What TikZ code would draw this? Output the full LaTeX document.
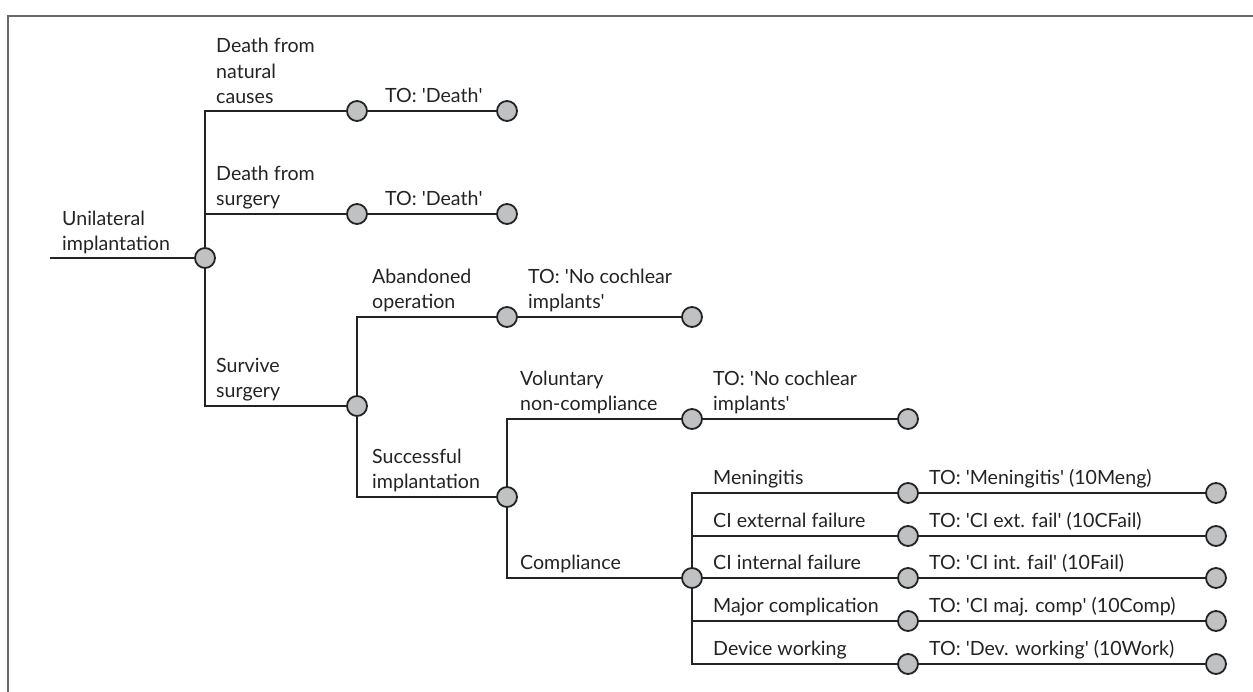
\documentclass[tikz,border=0pt]{standalone}
\usepackage{fontspec}
\setmainfont{Lato}
\newcommand\sq{\textquotesingle}
\definecolor{nodefill}{RGB}{192,193,195}
\definecolor{ink}{RGB}{35,35,35}
\definecolor{framec}{RGB}{105,105,105}
\begin{document}
\begin{tikzpicture}[x=1pt,y=-1pt,
  ln/.style={line width=1.9pt, draw=ink},
  chance/.style={circle, draw=ink, line width=1.8pt, fill=nodefill, minimum size=20pt, inner sep=0pt},
  lbl/.style={anchor=south west, inner sep=0pt, text depth=0pt, align=left, font=\fontsize{19.6}{25.5}\selectfont, text=ink},
  frameline/.style={line width=2pt, draw=framec}]
\useasboundingbox (0,0) rectangle (1253,691);
\draw[frameline] (8,700) -- (8,16) -- (1262,16);

% nodes
\coordinate (s0) at (50,258);
\node[chance] (c0) at (205,258) {};
\node[chance] (a1) at (357,111) {};
\node[chance] (t1) at (507,111) {};
\node[chance] (a2) at (357,214) {};
\node[chance] (t2) at (507,214) {};
\node[chance] (a3) at (357,406) {};
\node[chance] (b1) at (507,317) {};
\node[chance] (t3) at (692,317) {};
\node[chance] (b2) at (507,497) {};
\node[chance] (d1) at (692,419) {};
\node[chance] (t4) at (908,419) {};
\node[chance] (d2) at (692,578) {};
\node[chance] (e1) at (908,493) {};
\node[chance] (e2) at (908,536) {};
\node[chance] (e3) at (908,578) {};
\node[chance] (e4) at (908,621) {};
\node[chance] (e5) at (908,664) {};
\node[chance] (f1) at (1216,493) {};
\node[chance] (f2) at (1216,536) {};
\node[chance] (f3) at (1216,578) {};
\node[chance] (f4) at (1216,621) {};
\node[chance] (f5) at (1216,664) {};

% connectors
\draw[ln] (s0) -- (c0);
\draw[ln] (c0) |- (a1);
\draw[ln] (c0) |- (a2);
\draw[ln] (c0) |- (a3);
\draw[ln] (a1) -- (t1);
\draw[ln] (a2) -- (t2);
\draw[ln] (a3) |- (b1);
\draw[ln] (a3) |- (b2);
\draw[ln] (b1) -- (t3);
\draw[ln] (b2) |- (d1);
\draw[ln] (b2) |- (d2);
\draw[ln] (d1) -- (t4);
\draw[ln] (d2) |- (e1);
\draw[ln] (d2) |- (e2);
\draw[ln] (d2) -- (e3);
\draw[ln] (d2) |- (e4);
\draw[ln] (d2) |- (e5);
\draw[ln] (e1) -- (f1);
\draw[ln] (e2) -- (f2);
\draw[ln] (e3) -- (f3);
\draw[ln] (e4) -- (f4);
\draw[ln] (e5) -- (f5);

% labels
\node[lbl] (l0) at (62,251) {Unilateral\\implantation};
\node[lbl] (l1) at (216,104) {Death from\\natural\\causes};
\node[lbl] (l2) at (216,206) {Death from\\surgery};
\node[lbl] (l3) at (216,398) {Survive\\surgery};
\node[lbl] (o1) at (385,103) {TO: \sq Death\sq};
\node[lbl] (o2) at (385,206) {TO: \sq Death\sq};
\node[lbl] (l4) at (372,309) {Abandoned\\operation};
\node[lbl] (o3) at (528,309) {TO: \sq No cochlear\\implants\sq};
\node[lbl] (l5) at (372,489) {Successful\\implantation};
\node[lbl] (l6) at (520,411) {Voluntary\\non-compliance};
\node[lbl] (o4) at (713,411) {TO: \sq No cochlear\\implants\sq};
\node[lbl] (l7) at (520,570) {Compliance};
\node[lbl] (m1) at (713,485) {Meningitis};
\node[lbl] (m2) at (713,528) {CI external failure};
\node[lbl] (m3) at (713,570) {CI internal failure};
\node[lbl] (m4) at (713,613) {Major complication};
\node[lbl] (m5) at (713,656) {Device working};
\node[lbl] (p1) at (929,485) {TO: \sq Meningitis\sq{} (10Meng)};
\node[lbl] (p2) at (929,528) {TO: \sq CI ext. fail\sq{} (10CFail)};
\node[lbl] (p3) at (929,570) {TO: \sq CI int. fail\sq{} (10Fail)};
\node[lbl] (p4) at (929,613) {TO: \sq CI maj. comp\sq{} (10Comp)};
\node[lbl] (p5) at (929,656) {TO: \sq Dev. working\sq{} (10Work)};
\end{tikzpicture}
\end{document}
